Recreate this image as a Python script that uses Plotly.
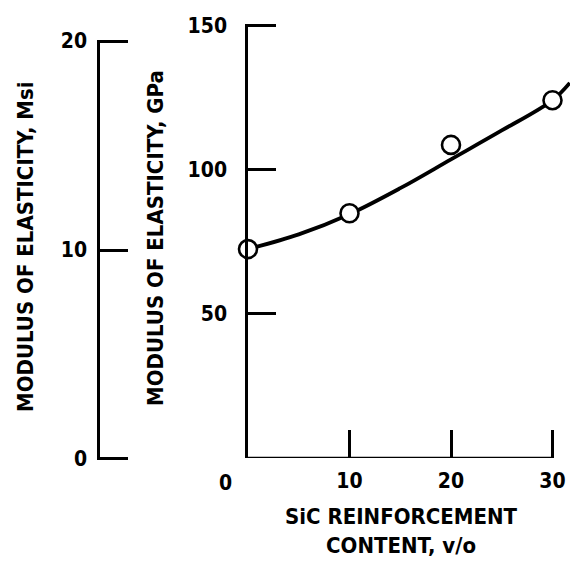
import plotly.graph_objects as go

# Data
content_pts = [0, 10, 20, 30]
modulus_pts = [72.4, 84.8, 108.5, 124.0]

curve_x = [0, 5, 10, 15, 20, 25, 30, 31.7]
curve_y = [72.4, 77.5, 84.5, 93.5, 103.5, 113.5, 124.0, 130.0]

x_ticks = [10, 20, 30]
gpa_ticks = [50, 100, 150]
msi_ticks = [0, 10, 20]

FONT = "DejaVu Sans Condensed, DejaVu Sans, sans-serif"
W, H = 570, 565


def px(x):
    return x / W


def py(y):
    return 1 - y / H


fig = go.Figure()

fig.add_trace(go.Scatter(
    x=curve_x, y=curve_y, mode="lines", line=dict(color="black", width=3.8, shape="spline"),
    showlegend=False, hoverinfo="skip"))
fig.add_trace(go.Scatter(
    x=content_pts, y=modulus_pts, mode="markers", cliponaxis=False,
    marker=dict(size=18, color="white", line=dict(color="black", width=2.6)),
    showlegend=False))
# empty trace to create the secondary (Msi) axis subplot
fig.add_trace(go.Scatter(x=[None], y=[None], xaxis="x2", yaxis="y2", showlegend=False))

tickfont = dict(family=FONT, size=21, color="black", weight="bold")

fig.update_layout(
    width=W, height=H,
    margin=dict(l=0, r=0, t=0, b=0, autoexpand=False),
    paper_bgcolor="white", plot_bgcolor="white",
    font=dict(family=FONT, color="black"),
    xaxis=dict(domain=[px(248), 1], range=[0, (570 - 248) / 10.15], tickvals=x_ticks, automargin=False,
               ticks="inside", ticklen=28, tickwidth=2.5, tickcolor="black",
               showline=False, showgrid=False, zeroline=False,
               tickfont=tickfont, ticklabelstandoff=8),
    yaxis=dict(domain=[py(458), py(24)], range=[0, 150.4], tickvals=gpa_ticks, automargin=False,
               ticks="inside", ticklen=28, tickwidth=2.5, tickcolor="black",
               showline=True, linewidth=2.5, linecolor="black",
               showgrid=False, zeroline=False, tickfont=tickfont, ticklabelstandoff=14),
    xaxis2=dict(domain=[px(100), px(140)], range=[0, 1], visible=False, anchor="y2"),
    yaxis2=dict(domain=[py(460), py(40)], range=[-0.05, 20.05], tickvals=msi_ticks, anchor="x2",
                automargin=False,
                ticks="inside", ticklen=28, tickwidth=2.5, tickcolor="black",
                showline=True, linewidth=2.5, linecolor="black",
                showgrid=False, zeroline=False, tickfont=tickfont, ticklabelstandoff=6),
)

# bottom axis line from 0 to 30
fig.add_shape(type="line", xref="x", yref="y", x0=0, x1=x_ticks[-1], y0=0, y1=0,
              line=dict(color="black", width=2.5))

# "0" label at origin, left-below
fig.add_annotation(text="<b>0</b>", xref="x", yref="y", x=0, y=0, showarrow=False,
                   xshift=-23, yshift=-25, font=tickfont)

titlefont = dict(family=FONT, size=22, color="black")
fig.add_annotation(text="<b>MODULUS OF ELASTICITY, GPa</b>", xref="paper", yref="paper",
                   x=px(155), y=py(238), xanchor="center", yanchor="middle",
                   textangle=-90, showarrow=False, font=titlefont)
fig.add_annotation(text="<b>MODULUS OF ELASTICITY, Msi</b>", xref="paper", yref="paper",
                   x=px(26), y=py(247), xanchor="center", yanchor="middle",
                   textangle=-90, showarrow=False, font=titlefont)
fig.add_annotation(text="<b>SiC REINFORCEMENT</b><br><b>CONTENT, v/o</b>", xref="paper", yref="paper",
                   x=px(401), y=py(531), xanchor="center", yanchor="middle",
                   showarrow=False, font=titlefont, align="center")

fig.write_html(
    "out.html",
    config={"displayModeBar": False},
    post_script="document.body.style.margin='0';document.body.style.overflow='hidden';",
)
